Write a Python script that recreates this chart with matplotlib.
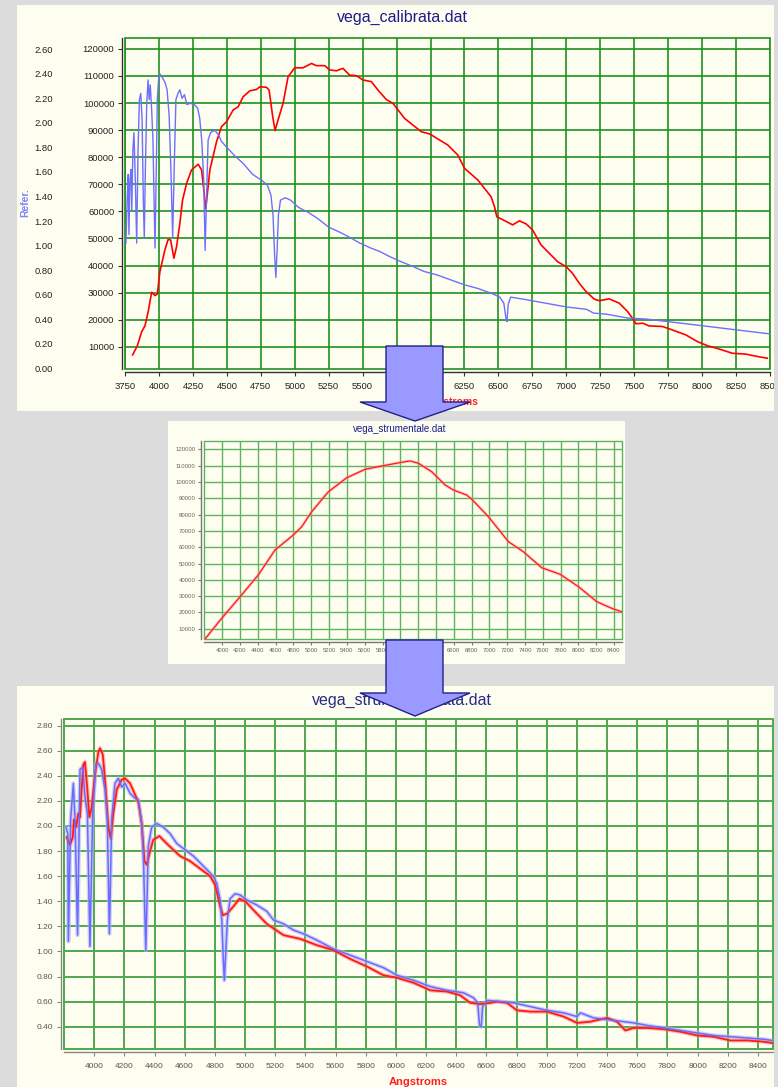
import numpy as np
import matplotlib.pyplot as plt
from matplotlib.patches import Rectangle, Polygon
from matplotlib.ticker import FormatStrFormatter

plt.rcParams['font.family'] = ['Liberation Sans', 'DejaVu Sans']

W, H = 778, 1087
CREAM = '#FEFEF0'
GREY = '#DCDCDC'
NAVY = '#1C1C8C'

# ── vega_calibrata.dat: raw counts (red) and reference flux (blue) ───────────
top_red_wl = [3806, 3841, 3873, 3897, 3921, 3946, 3971, 3988, 4007, 4044, 4068, 4086,
              4110, 4130, 4154, 4174, 4204, 4240, 4289, 4314, 4330, 4345, 4375, 4424,
              4461, 4498, 4546, 4583, 4620, 4669, 4718, 4743, 4792, 4811, 4836, 4855,
              4877, 4914, 4951, 5000, 5061, 5123, 5159, 5221, 5257, 5307, 5355, 5404,
              5454, 5502, 5564, 5613, 5674, 5723, 5809, 5932, 5993, 6127, 6201, 6250,
              6348, 6446, 6471, 6488, 6544, 6605, 6654, 6703, 6752, 6814, 6875, 6936,
              6998, 7046, 7096, 7145, 7206, 7243, 7316, 7390, 7451, 7488, 7513, 7562,
              7610, 7708, 7782, 7880, 7966, 8039, 8125, 8223, 8321, 8419, 8480]
top_red_counts = [7000, 10400, 15600, 17700, 23000, 30100, 28900, 29500, 37700, 45800,
                  49700, 49400, 42700, 47000, 55600, 64200, 70400, 75300, 77400, 75300,
                  68000, 61000, 75300, 85700, 91300, 93100, 97400, 98600, 102300, 104500,
                  105000, 106000, 105800, 104800, 95600, 89800, 93700, 99900, 109700,
                  113000, 113000, 114600, 113800, 113800, 112200, 111900, 112800, 110300,
                  110100, 108500, 107900, 104800, 101300, 99900, 94300, 89400, 88600,
                  84500, 80800, 75900, 71600, 65400, 61700, 58000, 56600, 55000, 56500,
                  55400, 53100, 47600, 44500, 41400, 39600, 37100, 33400, 30400, 27600,
                  27000, 27700, 26100, 23000, 20500, 18500, 18700, 17700, 17500, 16200,
                  14400, 11900, 10400, 9200, 7600, 7300, 6300, 5800]

top_blue_wl = [3757, 3766, 3774, 3779, 3786, 3794, 3800, 3808, 3816, 3826, 3836, 3846,
               3856, 3866, 3876, 3885, 3892, 3900, 3910, 3920, 3928, 3936, 3946, 3956,
               3964, 3971, 3978, 3988, 3998, 4007, 4025, 4045, 4060, 4075, 4088, 4101,
               4112, 4125, 4140, 4154, 4170, 4188, 4205, 4230, 4260, 4285, 4300, 4315,
               4330, 4340, 4350, 4362, 4380, 4412, 4440, 4460, 4500, 4560, 4620, 4690,
               4760, 4800, 4825, 4840, 4852, 4861, 4870, 4880, 4895, 4930, 4970, 5030,
               5100, 5170, 5250, 5330, 5400, 5480, 5560, 5630, 5700, 5780, 5870, 5950,
               6050, 6150, 6250, 6350, 6450, 6510, 6540, 6555, 6563, 6572, 6590, 6700,
               6850, 7000, 7150, 7200, 7300, 7450, 7600, 7750, 7900, 8050, 8200, 8350, 8500]
top_blue_refer = [1.02, 1.37, 1.58, 1.09, 1.53, 1.62, 1.29, 1.78, 1.92, 1.53, 1.02, 1.78,
                  2.19, 2.24, 2.02, 1.37, 1.06, 1.62, 2.15, 2.35, 2.19, 2.31, 2.11, 1.86,
                  1.37, 0.98, 1.45, 2.19, 2.37, 2.40, 2.37, 2.33, 2.27, 2.06, 1.62, 1.07,
                  1.62, 2.19, 2.24, 2.27, 2.20, 2.23, 2.15, 2.16, 2.15, 2.12, 2.04, 1.86,
                  1.53, 0.96, 1.37, 1.86, 1.92, 1.94, 1.90, 1.85, 1.80, 1.73, 1.67, 1.58,
                  1.53, 1.49, 1.41, 1.25, 0.92, 0.74, 0.96, 1.25, 1.37, 1.39, 1.37, 1.31,
                  1.27, 1.22, 1.15, 1.11, 1.07, 1.02, 0.98, 0.95, 0.91, 0.87, 0.83, 0.79,
                  0.76, 0.72, 0.68, 0.65, 0.61, 0.58, 0.53, 0.41, 0.38, 0.52, 0.58, 0.56,
                  0.53, 0.50, 0.48, 0.45, 0.44, 0.41, 0.40, 0.38, 0.36, 0.34, 0.32, 0.30, 0.28]

# ── vega_strumentale.dat: instrumental response ──────────────────────────────
mid_wl = [3806, 3994, 4200, 4405, 4593, 4798, 4893, 5005, 5192, 5398, 5604, 5810, 6016,
          6110, 6203, 6353, 6503, 6596, 6746, 6803, 6990, 7214, 7383, 7589, 7795, 8001,
          8207, 8376, 8506]
mid_counts = [3700, 16400, 29600, 43000, 58300, 67500, 72600, 81800, 94000, 102600,
              107800, 110000, 112100, 112900, 111500, 106300, 98200, 95100, 92000, 89400,
              78700, 63400, 57200, 47400, 43400, 35800, 26600, 22500, 20000]

# ── calibrated spectrum (red) against reference (blue) ───────────────────────
bot_red_wl = [3818, 3840, 3858, 3866, 3880, 3895, 3906, 3917, 3928, 3939, 3955, 3968,
              3984, 4006, 4028, 4039, 4057, 4072, 4094, 4110, 4127, 4150, 4183, 4205,
              4238, 4271, 4293, 4315, 4333, 4349, 4366, 4392, 4432, 4481, 4525, 4570,
              4636, 4702, 4769, 4802, 4835, 4853, 4880, 4924, 4963, 5001, 5056, 5144,
              5255, 5366, 5476, 5586, 5697, 5808, 5918, 6007, 6117, 6228, 6339, 6427,
              6493, 6560, 6626, 6670, 6737, 6803, 6892, 7002, 7113, 7201, 7290, 7400,
              7466, 7521, 7576, 7665, 7776, 7886, 7997, 8107, 8218, 8329, 8439, 8494]
bot_red_val = [1.91, 1.85, 1.91, 2.05, 1.99, 2.10, 2.07, 2.29, 2.49, 2.51, 2.29, 2.07,
               2.15, 2.42, 2.59, 2.62, 2.57, 2.37, 1.99, 1.90, 2.10, 2.29, 2.37, 2.38,
               2.34, 2.25, 2.19, 2.02, 1.72, 1.69, 1.78, 1.89, 1.92, 1.86, 1.81, 1.76,
               1.72, 1.66, 1.60, 1.53, 1.36, 1.29, 1.30, 1.36, 1.42, 1.40, 1.33, 1.22,
               1.13, 1.10, 1.05, 1.01, 0.94, 0.88, 0.81, 0.79, 0.75, 0.69, 0.68, 0.65,
               0.59, 0.58, 0.59, 0.60, 0.59, 0.53, 0.52, 0.52, 0.48, 0.43, 0.44, 0.47,
               0.44, 0.37, 0.39, 0.39, 0.38, 0.36, 0.33, 0.32, 0.29, 0.29, 0.28, 0.27]

bot_blue_wl = [3813, 3825, 3829, 3844, 3862, 3873, 3890, 3906, 3924, 3939, 3955, 3972,
               3990, 4012, 4028, 4050, 4072, 4087, 4101, 4116, 4138, 4160, 4183, 4205,
               4238, 4271, 4293, 4315, 4326, 4342, 4359, 4381, 4415, 4459, 4503, 4548,
               4603, 4658, 4724, 4790, 4813, 4835, 4846, 4857, 4863, 4872, 4883, 4901,
               4934, 4968, 5012, 5078, 5144, 5189, 5255, 5321, 5388, 5476, 5586, 5697,
               5808, 5918, 6007, 6117, 6228, 6339, 6449, 6515, 6542, 6555, 6566, 6575,
               6604, 6693, 6781, 6892, 7002, 7113, 7201, 7223, 7311, 7444, 7577, 7665,
               7776, 7886, 7997, 8107, 8218, 8329, 8439, 8494]
bot_blue_val = [1.99, 1.94, 1.08, 2.05, 2.34, 2.05, 1.13, 2.45, 2.47, 2.23, 2.10, 1.04,
                2.10, 2.50, 2.50, 2.45, 2.29, 2.05, 1.14, 2.05, 2.34, 2.38, 2.31, 2.34,
                2.26, 2.22, 2.21, 2.02, 1.78, 1.01, 1.84, 1.99, 2.02, 1.99, 1.94, 1.86,
                1.81, 1.76, 1.68, 1.60, 1.54, 1.41, 1.25, 0.91, 0.77, 0.98, 1.25, 1.42,
                1.46, 1.45, 1.41, 1.37, 1.32, 1.25, 1.22, 1.17, 1.14, 1.09, 1.02, 0.97,
                0.92, 0.87, 0.81, 0.77, 0.72, 0.69, 0.67, 0.63, 0.59, 0.41, 0.40, 0.56,
                0.61, 0.60, 0.59, 0.56, 0.53, 0.51, 0.48, 0.51, 0.47, 0.45, 0.43, 0.41,
                0.39, 0.37, 0.35, 0.33, 0.32, 0.31, 0.30, 0.29]


def frac(x0, y0, x1, y1):
    # pixel box (top-left origin) -> figure fraction rect
    return [x0 / W, 1 - y1 / H, (x1 - x0) / W, (y1 - y0) / H]


def panel(x0, y0, x1, y1):
    fig.add_artist(Rectangle((x0 / W, 1 - y1 / H), (x1 - x0) / W, (y1 - y0) / H,
                             transform=fig.transFigure, facecolor=CREAM,
                             edgecolor='none', zorder=-5))


def grid_axes(box, xlim, ylim, xticks, yticks, gcol, glw, spine_col, fs, tcol, yfmt):
    ax = fig.add_axes(frac(*box))
    ax.set_facecolor('none')
    ax.set_xlim(xlim)
    ax.set_ylim(ylim)
    ax.set_xticks(xticks)
    ax.set_yticks(yticks)
    ax.yaxis.set_major_formatter(FormatStrFormatter(yfmt))
    ax.grid(True, color=gcol, lw=glw)
    ax.set_axisbelow(True)
    ax.add_patch(Rectangle((0, 0), 1, 1, transform=ax.transAxes, fill=False,
                           edgecolor=gcol, lw=glw, clip_on=False, zorder=0.5))
    for s in ['top', 'right']:
        ax.spines[s].set_visible(False)
    for s in ['left', 'bottom']:
        ax.spines[s].set_position(('outward', 2.2))
        ax.spines[s].set_color(spine_col)
        ax.spines[s].set_linewidth(1.0)
    ax.tick_params(colors=spine_col, labelcolor=tcol, labelsize=fs, length=3, width=0.8, pad=2.5)
    return ax


fig = plt.figure(figsize=(W / 100, H / 100), dpi=100)
fig.patch.set_facecolor(GREY)

# ── Panel 1 ──────────────────────────────────────────────────────────────────
panel(17, 5, 778, 411)
fig.text(402 / W, 1 - 17 / H, 'vega_calibrata.dat', ha='center', va='center',
         fontsize=11.5, color=NAVY)
ax1 = grid_axes((125, 38, 770, 369), (3750, 8500), (1800, 124000),
                np.arange(3750, 8501, 250), np.arange(10000, 120001, 10000),
                '#209020', 1.2, '#333333', 6.8, '#222222', '%d')
ax1.tick_params(axis='x', pad=4)
ax1.plot(top_red_wl, top_red_counts, color='#FF0000', lw=1.2, zorder=3)
ax1.set_xlabel('Angstroms', color='#FF2020', fontsize=7.5, fontweight='bold')
ax1.xaxis.set_label_coords((451 - 125) / (770 - 125), -(397 - 369) / (369 - 38))

ax1b = fig.add_axes(frac(125, 38, 770, 369), sharex=ax1)
ax1b.set_facecolor('none')
ax1b.set_ylim(-0.006, 2.692)
ax1b.set_yticks(np.arange(0, 2.61, 0.2))
ax1b.yaxis.set_major_formatter(FormatStrFormatter('%.2f'))
ax1b.tick_params(axis='y', length=0, pad=52, labelsize=6.8, labelcolor='#222222')
ax1b.xaxis.set_visible(False)
for s in ax1b.spines.values():
    s.set_visible(False)
ax1b.plot(top_blue_wl, top_blue_refer, color='#6E6EFF', lw=1.0, zorder=2)
fig.text(25 / W, 1 - 203 / H, 'Refer.', rotation=90, ha='center', va='center',
         fontsize=7.5, fontweight='bold', color='#8080FF')

# ── Panel 2 ──────────────────────────────────────────────────────────────────
panel(168, 421, 625, 664)
fig.text(400 / W, 1 - 429 / H, 'vega_strumentale.dat', ha='center', va='center',
         fontsize=7, color=NAVY)
ax2 = grid_axes((204, 441, 622, 639), (3795, 8490), (3700, 125150),
                np.arange(4000, 8401, 200), np.arange(10000, 120001, 10000),
                '#5DB35D', 1.0, '#777777', 4.3, '#666666', '%d')
ax2.tick_params(length=2, pad=2)
ax2.plot(mid_wl, mid_counts, color='#FF9090', lw=2.2, alpha=0.5, zorder=2)
ax2.plot(mid_wl, mid_counts, color='#FF1A1A', lw=0.9, zorder=3)

# ── Panel 3 ──────────────────────────────────────────────────────────────────
panel(17, 686, 778, 1087)
fig.text(402 / W, 1 - 700 / H, 'vega_strum_calibrata.dat', ha='center', va='center',
         fontsize=11.5, color='#2A2A8A')
ax3 = grid_axes((64, 719, 773, 1049), (3800, 8500), (0.222, 2.853),
                np.arange(4000, 8401, 200), np.arange(0.4, 2.81, 0.2),
                '#4FA84F', 1.4, '#888888', 6.0, '#555555', '%.2f')
ax3.tick_params(axis='x', pad=5)
ax3.plot(bot_blue_wl, bot_blue_val, color='#B4B4FF', lw=3.0, alpha=0.6, zorder=2)
ax3.plot(bot_red_wl, bot_red_val, color='#FF8080', lw=3.0, alpha=0.5, zorder=2)
ax3.plot(bot_red_wl, bot_red_val, color='#FF1A1A', lw=1.3, zorder=3)
ax3.plot(bot_blue_wl, bot_blue_val, color='#6A6AFF', lw=1.1, zorder=4)
ax3.set_xlabel('Angstroms', color='#FF2020', fontsize=8, fontweight='bold')
ax3.xaxis.set_label_coords((418 - 64) / (773 - 64), -(1077 - 1049) / (1049 - 719))

# right-hand grey margin clips the panels
fig.add_artist(Rectangle((774 / W, 0), 4 / W, 1, transform=fig.transFigure,
                         facecolor=GREY, edgecolor='none', zorder=5))

# ── Arrows linking the panels ────────────────────────────────────────────────
def down_arrow(top, neck, tip):
    pts = [(386, top), (443, top), (443, neck), (470, neck), (415, tip),
           (360, neck), (386, neck)]
    pts = [(x / W, 1 - y / H) for x, y in pts]
    fig.add_artist(Polygon(pts, closed=True, transform=fig.transFigure,
                           facecolor='#9999FF', edgecolor='#20208A', lw=1.0, zorder=10))

down_arrow(346, 402, 421)
down_arrow(640, 693, 716)

fig.savefig('out.png', dpi=100, facecolor=GREY)
